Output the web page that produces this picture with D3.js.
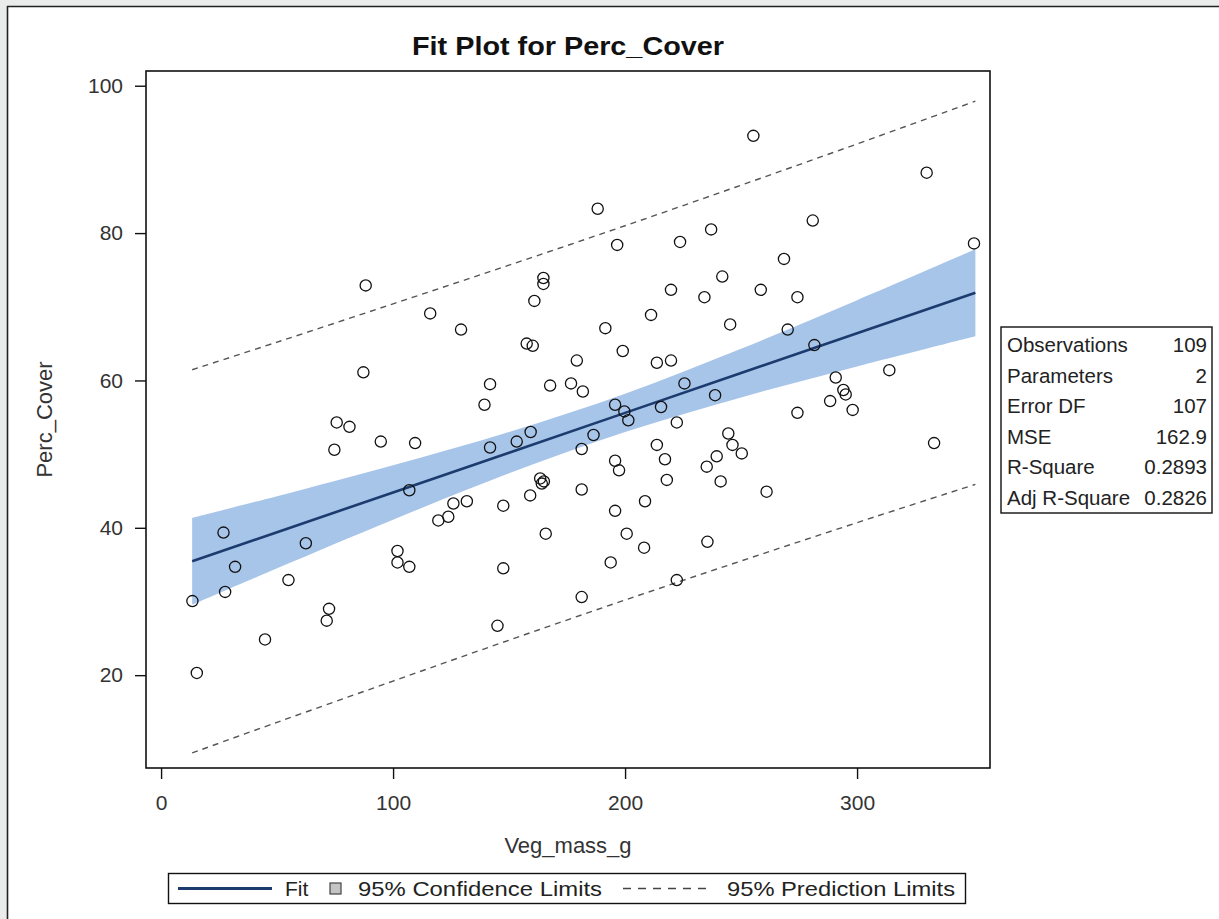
<!DOCTYPE html>
<html>
<head>
<meta charset="utf-8">
<script src="https://cdn.jsdelivr.net/npm/d3@7"></script>
<style>
  html, body { margin: 0; padding: 0; background: #e9ecea; }
  svg { display: block; }
  text { font-family: "Liberation Sans", Arial, sans-serif; }
</style>
</head>
<body>
<svg id="chart" width="1219" height="919"></svg>
<script>
// Observations: Veg_mass_g (x) and Perc_Cover (y)
const vegMass = [
  88.2, 116, 129.3, 164.8, 164.8, 160.9, 157.6, 160.2, 87.2, 141.8, 167.7, 139.4,
  176.7, 181.8, 255.3, 330, 188.2, 280.9, 237.1, 196.6, 223.7, 350.4, 268.5, 241.9,
  219.8, 258.5, 234.2, 274.3, 211.2, 245.3, 191.5, 270.1, 199, 281.6, 179.2, 213.7,
  219.8, 225.6, 313.9, 290.8, 294.1, 295.1, 288.4, 298.1, 274.3, 238.8, 195.7, 199.7,
  215.5, 201.4, 222.3, 186.4, 181.3, 213.7, 217.2, 195.7, 197.4, 244.5, 246.3, 250.3,
  239.5, 235.2, 241.2, 181.3, 218, 261, 208.6, 195.7, 200.7, 208.2, 235.5, 193.8,
  222.3, 181.3, 333.2, 75.7, 81.2, 74.7, 94.7, 109.5, 141.8, 153.3, 159.3, 163.4,
  164.1, 159.1, 147.5, 131.8, 126, 123.8, 119.5, 107, 165.8, 147.5, 145, 26.9,
  62.4, 101.9, 101.9, 107, 31.9, 54.9, 27.6, 13.5, 72.4, 71.4, 44.8, 15.4, 165.0
];
const percCover = [
  72.9, 69.1, 66.9, 73.9, 73.1, 70.8, 65.0, 64.7, 61.1, 59.5, 59.3, 56.7,
  59.6, 58.5, 93.2, 88.2, 83.3, 81.7, 80.5, 78.4, 78.8, 78.6, 76.5, 74.1,
  72.3, 72.3, 71.3, 71.3, 68.9, 67.6, 67.1, 66.9, 64.0, 64.8, 62.7, 62.4,
  62.7, 59.6, 61.4, 60.4, 58.7, 58.1, 57.2, 56.0, 55.6, 58.0, 56.7, 55.8,
  56.4, 54.6, 54.3, 52.6, 50.7, 51.25, 49.3, 49.1, 47.8, 52.8, 51.25, 50.1,
  49.7, 48.3, 46.3, 45.2, 46.5, 44.9, 43.6, 42.3, 39.2, 37.3, 38.1, 35.3,
  32.9, 30.6, 51.5, 54.3, 53.7, 50.6, 51.7, 51.5, 50.9, 51.7, 53.0, 46.7,
  46.0, 44.4, 43.0, 43.6, 43.3, 41.5, 41.0, 45.1, 39.2, 34.5, 26.7, 39.35,
  37.9, 36.85, 35.3, 34.7, 34.7, 32.9, 31.3, 30.05, 29.0, 27.4, 24.85, 20.3, 46.3
];

// Fitted line and limits, sampled along Veg_mass_g
const fitX     = [13.4, 50, 100, 150, 200, 250, 300, 351];
const fitY     = [35.45, 39.4, 44.8, 50.2, 55.6, 61.0, 66.4, 71.9];
const confLow  = [29.55, 34.5, 41.1, 47.4, 53.0, 57.7, 61.9, 66.0];
const confHigh = [41.35, 44.3, 48.5, 53.0, 58.2, 64.3, 70.9, 77.8];
const predLow  = [9.45, 13.6, 19.2, 24.75, 30.2, 35.5, 40.7, 45.9];
const predHigh = [61.45, 65.2, 70.4, 75.65, 81.0, 86.5, 92.1, 97.9];

// Axis ticks
const xTicks = [0, 100, 200, 300];
const yTicks = [20, 40, 60, 80, 100];

// Fit statistics
const statLabels = ["Observations", "Parameters", "Error DF", "MSE", "R-Square", "Adj R-Square"];
const statValues = ["109", "2", "107", "162.9", "0.2893", "0.2826"];

// Legend entries
const legendLabels = ["Fit", "95% Confidence Limits", "95% Prediction Limits"];

const svg = d3.select("#chart");
const W = 1219, H = 919;
const plot = { left: 146, top: 71, right: 990, bottom: 768 };

// Page panel with a thin frame on the top and left
svg.append("rect").attr("x", 0).attr("y", 0).attr("width", W).attr("height", H).attr("fill", "#e9ecea");
svg.append("rect").attr("x", 7).attr("y", 6).attr("width", W - 7).attr("height", H - 6).attr("fill", "#ffffff");
svg.append("line").attr("x1", 7).attr("x2", W).attr("y1", 6.5).attr("y2", 6.5).attr("stroke", "#222").attr("stroke-width", 1.6);
svg.append("line").attr("x1", 7.5).attr("x2", 7.5).attr("y1", 6).attr("y2", H).attr("stroke", "#222").attr("stroke-width", 1.6);

const x = d3.scaleLinear().domain([-6.5, 357.3]).range([plot.left, plot.right]);
const y = d3.scaleLinear().domain([7.4, 102]).range([plot.bottom, plot.top]);

// Title
svg.append("text")
  .attr("x", (plot.left + plot.right) / 2).attr("y", 55)
  .attr("text-anchor", "middle")
  .attr("font-size", 25).attr("font-weight", "bold").attr("fill", "#111")
  .attr("textLength", 312).attr("lengthAdjust", "spacingAndGlyphs")
  .text("Fit Plot for Perc_Cover");

const fitPts = fitX.map((v, i) => ({ x: v, fit: fitY[i], cl: confLow[i], ch: confHigh[i], pl: predLow[i], ph: predHigh[i] }));

const g = svg.append("g");

// Confidence band
g.append("path")
  .datum(fitPts)
  .attr("d", d3.area().curve(d3.curveCatmullRom)
    .x(d => x(d.x)).y0(d => y(d.cl)).y1(d => y(d.ch)))
  .attr("fill", "#6d9ddb").attr("fill-opacity", 0.6);

// Prediction limits
[["pl"], ["ph"]].forEach(([k]) => {
  g.append("path")
    .datum(fitPts)
    .attr("d", d3.line().curve(d3.curveCatmullRom).x(d => x(d.x)).y(d => y(d[k])))
    .attr("fill", "none").attr("stroke", "#555").attr("stroke-width", 1.4)
    .attr("stroke-dasharray", "6,5");
});

// Fit line
g.append("path")
  .datum(fitPts)
  .attr("d", d3.line().x(d => x(d.x)).y(d => y(d.fit)))
  .attr("fill", "none").attr("stroke", "#1c3b6e").attr("stroke-width", 2.6);

// Observations
g.selectAll("circle.obs")
  .data(vegMass.map((v, i) => [v, percCover[i]]))
  .join("circle")
  .attr("class", "obs")
  .attr("cx", d => x(d[0])).attr("cy", d => y(d[1]))
  .attr("r", 5.6)
  .attr("fill", "none").attr("stroke", "#111").attr("stroke-width", 1.3);

// Frame
svg.append("rect")
  .attr("x", plot.left).attr("y", plot.top)
  .attr("width", plot.right - plot.left).attr("height", plot.bottom - plot.top)
  .attr("fill", "none").attr("stroke", "#111").attr("stroke-width", 1.6);

// Axes
const xAxis = svg.append("g").attr("transform", `translate(0,${plot.bottom})`)
  .call(d3.axisBottom(x).tickValues(xTicks).tickSize(11).tickPadding(16).tickSizeOuter(0));
const yAxis = svg.append("g").attr("transform", `translate(${plot.left},0)`)
  .call(d3.axisLeft(y).tickValues(yTicks).tickSize(11).tickPadding(12).tickSizeOuter(0));
[xAxis, yAxis].forEach(a => {
  a.select(".domain").remove();
  a.selectAll(".tick line").attr("stroke", "#111").attr("stroke-width", 1.4);
  a.selectAll(".tick text").attr("font-size", 21).attr("fill", "#333")
    .attr("font-family", "Liberation Sans, Arial, sans-serif");
});

// Axis labels
svg.append("text")
  .attr("x", (plot.left + plot.right) / 2).attr("y", 853)
  .attr("text-anchor", "middle").attr("font-size", 22).attr("fill", "#333")
  .text("Veg_mass_g");
svg.append("text")
  .attr("transform", `translate(52,${(plot.top + plot.bottom) / 2}) rotate(-90)`)
  .attr("text-anchor", "middle").attr("font-size", 22).attr("fill", "#333")
  .text("Perc_Cover");

// Statistics inset
const st = svg.append("g");
st.append("rect").attr("x", 1001).attr("y", 327).attr("width", 211).attr("height", 186)
  .attr("fill", "#fff").attr("stroke", "#111").attr("stroke-width", 1.4);
statLabels.forEach((lab, i) => {
  const by = 352 + i * 30.6;
  st.append("text").attr("x", 1007).attr("y", by).attr("font-size", 20.5).attr("fill", "#222").text(lab);
  st.append("text").attr("x", 1207).attr("y", by).attr("font-size", 20.5).attr("fill", "#222")
    .attr("text-anchor", "end").text(statValues[i]);
});

// Legend
const lg = svg.append("g");
lg.append("rect").attr("x", 168.5).attr("y", 873.5).attr("width", 797).attr("height", 30)
  .attr("fill", "#fff").attr("stroke", "#111").attr("stroke-width", 1.4);
const ly = 888.5, lb = 896;
lg.append("line").attr("x1", 178).attr("x2", 272).attr("y1", ly).attr("y2", ly)
  .attr("stroke", "#1c3b6e").attr("stroke-width", 3);
lg.append("text").attr("x", 285).attr("y", lb).attr("font-size", 21).attr("fill", "#222").text(legendLabels[0]);
lg.append("rect").attr("x", 330).attr("y", ly - 5.5).attr("width", 11).attr("height", 11)
  .attr("fill", "#c4c4c4").attr("stroke", "#444").attr("stroke-width", 1.2);
lg.append("text").attr("x", 358).attr("y", lb).attr("font-size", 21).attr("fill", "#222")
  .attr("textLength", 244).attr("lengthAdjust", "spacingAndGlyphs").text(legendLabels[1]);
lg.append("line").attr("x1", 623).attr("x2", 707).attr("y1", ly).attr("y2", ly)
  .attr("stroke", "#444").attr("stroke-width", 1.4).attr("stroke-dasharray", "8,7");
lg.append("text").attr("x", 727).attr("y", lb).attr("font-size", 21).attr("fill", "#222")
  .attr("textLength", 228).attr("lengthAdjust", "spacingAndGlyphs").text(legendLabels[2]);
</script>
</body>
</html>
